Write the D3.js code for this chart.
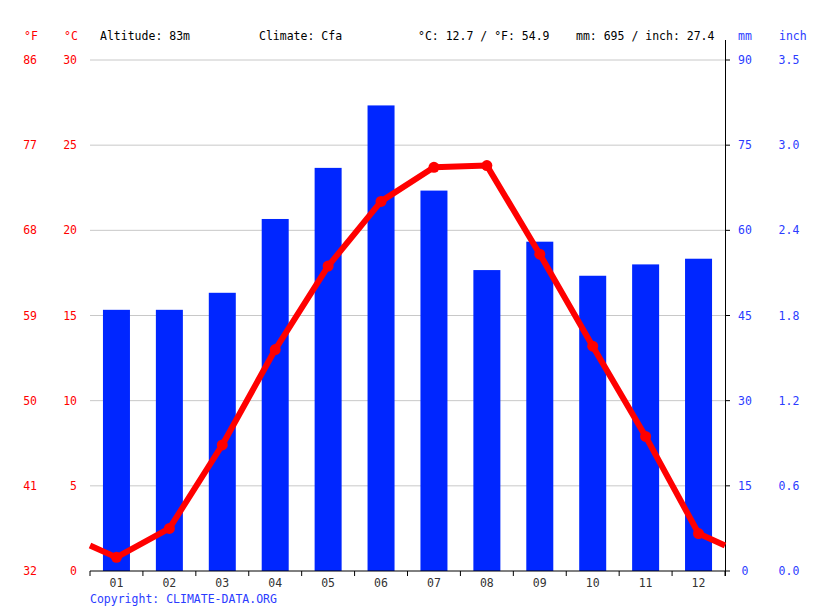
<!DOCTYPE html>
<html><head><meta charset="utf-8">
<script src="https://cdn.jsdelivr.net/npm/d3@7"></script>
<style>body{margin:0;background:#fff}svg{display:block}text{font-family:"DejaVu Sans Mono",monospace;font-size:11.5px}</style>
</head><body>
<svg id="c" width="815" height="611"></svg>
<script>
const months = ["01","02","03","04","05","06","07","08","09","10","11","12"];
const precipMm = [46,46,49,62,71,82,67,53,58,52,54,55];
const tempC = [0.8,2.5,7.4,13.0,17.9,21.7,23.7,23.8,18.6,13.2,7.9,2.2];
const cTicks = [0,5,10,15,20,25,30];
const fLabels = ["32","41","50","59","68","77","86"];
const mmTicks = [0,15,30,45,60,75,90];
const inchLabels = ["0.0","0.6","1.2","1.8","2.4","3.0","3.5"];

const svg = d3.select("#c");
const L = 90, R = 725, T = 60, B = 571;
const x = d3.scaleBand().domain(months).range([L, R]);
const yT = d3.scaleLinear().domain([0,30]).range([B, T]);
const yP = d3.scaleLinear().domain([0,90]).range([B, T]);
const red = "#ff0000", blue = "#0026ff", tblue = "#2b3cff";

// gridlines
svg.append("g").selectAll("line").data(cTicks.slice(1)).join("line")
  .attr("x1", L).attr("x2", R).attr("y1", d=>yT(d)).attr("y2", d=>yT(d))
  .attr("stroke", "#c8c8c8").attr("stroke-width", 1);

// bars
const bw = 27;
svg.append("g").selectAll("rect").data(precipMm).join("rect")
  .attr("x", (d,i)=>x(months[i]) + x.bandwidth()/2 - bw/2)
  .attr("width", bw)
  .attr("y", d=>yP(d)).attr("height", d=>B - yP(d))
  .attr("fill", blue);

// bottom axis
const ax = svg.append("g").attr("transform", `translate(0,${B})`);
ax.append("line").attr("x1", L).attr("x2", R).attr("stroke", "#000");
ax.selectAll("line.t").data(d3.range(13)).join("line").attr("class","t")
  .attr("x1", i=>L + i*x.step()).attr("x2", i=>L + i*x.step())
  .attr("y1", 0).attr("y2", 5).attr("stroke", "#000");
ax.selectAll("text").data(months).join("text")
  .attr("x", d=>x(d)+x.bandwidth()/2).attr("y", 16).attr("text-anchor","middle")
  .attr("fill", "#333").text(d=>d);

// right axis
svg.append("line").attr("x1", R+0.5).attr("x2", R+0.5).attr("y1", 40).attr("y2", B+5).attr("stroke", "#000");
svg.append("g").selectAll("line").data(mmTicks).join("line")
  .attr("x1", R).attr("x2", R+5).attr("y1", d=>yP(d)).attr("y2", d=>yP(d)).attr("stroke","#000");
svg.append("g").selectAll("text").data(mmTicks).join("text")
  .attr("x", 745).attr("y", d=>yP(d)+4).attr("text-anchor","middle").attr("fill", tblue).text(d=>d);
svg.append("g").selectAll("text").data(inchLabels).join("text")
  .attr("x", 789).attr("y", (d,i)=>yP(mmTicks[i])+4).attr("text-anchor","middle").attr("fill", tblue).text(d=>d);

// left labels
svg.append("g").selectAll("text").data(cTicks).join("text")
  .attr("x", 77).attr("y", d=>yT(d)+4).attr("text-anchor","end").attr("fill", red).text(d=>d);
svg.append("g").selectAll("text").data(fLabels).join("text")
  .attr("x", 37).attr("y", (d,i)=>yT(cTicks[i])+4).attr("text-anchor","end").attr("fill", red).text(d=>d);

// header
svg.append("text").attr("x", 24).attr("y", 40).attr("fill", red).text("°F");
svg.append("text").attr("x", 64).attr("y", 40).attr("fill", red).text("°C");
svg.append("text").attr("x", 100).attr("y", 40).attr("fill", "#000").text("Altitude: 83m");
svg.append("text").attr("x", 259).attr("y", 40).attr("fill", "#000").text("Climate: Cfa");
svg.append("text").attr("x", 418).attr("y", 40).attr("fill", "#000").text("°C: 12.7 / °F: 54.9");
svg.append("text").attr("x", 576).attr("y", 40).attr("fill", "#000").text("mm: 695 / inch: 27.4");
svg.append("text").attr("x", 738).attr("y", 40).attr("fill", tblue).text("mm");
svg.append("text").attr("x", 779).attr("y", 40).attr("fill", tblue).text("inch");
svg.append("text").attr("x", 90).attr("y", 603).attr("fill", tblue).text("Copyright: CLIMATE-DATA.ORG");

// temperature line with wrap-around edges
const edge = (tempC[0] + tempC[11]) / 2;
const pts = [[L, yT(edge)]].concat(tempC.map((t,i)=>[x(months[i])+x.bandwidth()/2, yT(t)])).concat([[R, yT(edge)]]);
svg.append("path").attr("d", d3.line()(pts)).attr("fill","none")
  .attr("stroke", red).attr("stroke-width", 6).attr("stroke-linejoin","round");
svg.append("g").selectAll("circle").data(tempC).join("circle")
  .attr("cx", (d,i)=>x(months[i])+x.bandwidth()/2).attr("cy", d=>yT(d)).attr("r", 5.5).attr("fill", red);
</script>
</body></html>
